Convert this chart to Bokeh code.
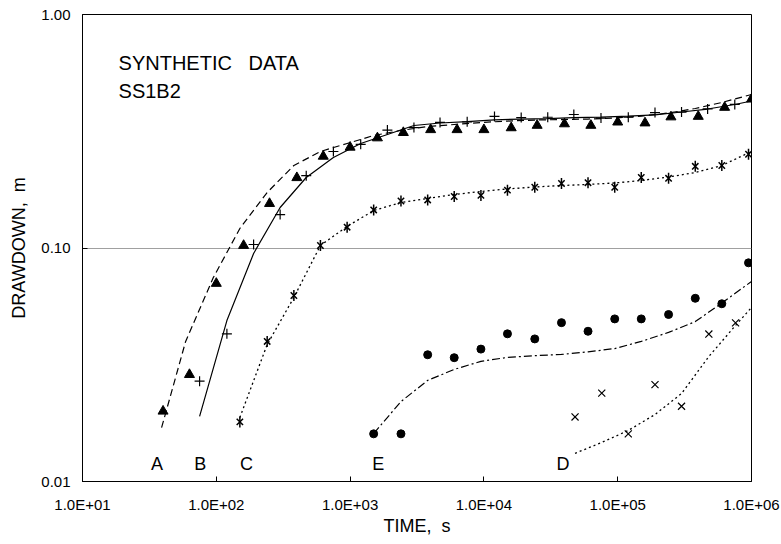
import math
from bokeh.plotting import figure
from bokeh.models import Range1d, FixedTicker
from bokeh.core.properties import value
from bokeh.embed import file_html
from bokeh.resources import INLINE

# ---------------- data ----------------
x_tick_values = [10, 100, 1000, 10000, 100000, 1000000]
x_tick_labels = ["1.0E+01", "1.0E+02", "1.0E+03", "1.0E+04", "1.0E+05", "1.0E+06"]
y_tick_values = [0.01, 0.1, 1.0]
y_tick_labels = ["0.01", "0.10", "1.00"]

# observed (synthetic) data
time_A_obs = [40, 63, 100, 160, 250, 400, 630, 1000, 1600, 2500, 4000, 6300, 10000,
              16000, 25000, 40000, 63000, 100000, 160000, 250000, 400000, 630000, 1000000]
drawdown_A_obs = [0.0200, 0.0287, 0.0705, 0.1025, 0.155, 0.200, 0.247, 0.270, 0.296, 0.312,
                  0.321, 0.321, 0.321, 0.327, 0.335, 0.340, 0.335, 0.346, 0.343, 0.364,
                  0.366, 0.400, 0.434]

time_B_obs = [75, 120, 190, 300, 470, 750, 1200, 1900, 3000, 4700, 7500, 12000, 19000,
              30000, 47000, 75000, 120000, 190000, 300000, 470000, 750000]
drawdown_B_obs = [0.0269, 0.0429, 0.1035, 0.139, 0.204, 0.259, 0.278, 0.320, 0.328, 0.345,
                  0.347, 0.366, 0.362, 0.363, 0.373, 0.360, 0.363, 0.380, 0.382, 0.394, 0.412]

time_C_obs = [150, 240, 380, 600, 950, 1500, 2400, 3800, 6000, 9500, 15000, 24000, 38000,
              60000, 95000, 150000, 240000, 380000, 600000, 950000]
drawdown_C_obs = [0.0180, 0.0398, 0.0626, 0.1025, 0.1228, 0.1455, 0.159, 0.1606, 0.1662,
                  0.168, 0.1769, 0.182, 0.1889, 0.1904, 0.182, 0.2004, 0.1988, 0.2238,
                  0.2256, 0.252]

time_E_obs = [1500, 2400, 3800, 6000, 9500, 15000, 24000, 38000, 60000, 95000, 150000,
              240000, 380000, 600000, 950000]
drawdown_E_obs = [0.0160, 0.0160, 0.0349, 0.0339, 0.0369, 0.0429, 0.0408, 0.0479, 0.0440,
                  0.0497, 0.0497, 0.0519, 0.0609, 0.0577, 0.0864]

time_D_obs = [48000, 76000, 120000, 190000, 300000, 480000, 760000]
drawdown_D_obs = [0.0189, 0.0239, 0.0160, 0.0260, 0.0210, 0.0428, 0.0478]

# fitted type curves
time_A_fit = [39, 59, 95, 150, 240, 380, 600, 950, 1500, 2400, 3800, 6000, 9500, 15000,
              24000, 38000, 60000, 95000, 150000, 240000, 380000, 600000, 1000000]
drawdown_A_fit = [0.0170, 0.0398, 0.0747, 0.1212, 0.1729, 0.2256, 0.259, 0.2803, 0.3032,
                  0.3187, 0.3314, 0.338, 0.3446, 0.3497, 0.3532, 0.3549, 0.3567, 0.3602,
                  0.3674, 0.3786, 0.3958, 0.4199, 0.4544]

time_B_fit = [75, 120, 190, 300, 470, 750, 1200, 1900, 3000, 4700, 7500, 12000, 19000,
              30000, 47000, 75000, 120000, 190000, 300000, 470000, 750000, 1000000]
drawdown_B_fit = [0.0190, 0.0489, 0.0947, 0.1491, 0.2004, 0.2441, 0.2803, 0.3062, 0.3346,
                  0.343, 0.348, 0.354, 0.3567, 0.3585, 0.3614, 0.3632, 0.3668, 0.3719,
                  0.3823, 0.3937, 0.4116, 0.4262]

time_C_fit = [150, 240, 380, 600, 950, 1500, 2400, 3800, 6000, 9500, 15000, 24000, 38000,
              60000, 95000, 150000, 240000, 380000, 600000, 1000000]
drawdown_C_fit = [0.0188, 0.0386, 0.0614, 0.1025, 0.1237, 0.1447, 0.1566, 0.163, 0.1695,
                  0.1746, 0.179, 0.1825, 0.1852, 0.1871, 0.1899, 0.1946, 0.2014, 0.2105,
                  0.2256, 0.259]

time_E_fit = [1500, 2400, 3800, 6000, 9500, 15000, 24000, 38000, 60000, 95000, 150000,
              240000, 380000, 600000, 1000000]
drawdown_E_fit = [0.01605, 0.0220, 0.0271, 0.0302, 0.0327, 0.0340, 0.0346, 0.0350, 0.0359,
                  0.0371, 0.0398, 0.0435, 0.0484, 0.0581, 0.0719]

time_D_fit = [48000, 76000, 120000, 190000, 300000, 480000, 760000, 1000000]
drawdown_D_fit = [0.0132, 0.0147, 0.01654, 0.01936, 0.0238, 0.0343, 0.0466, 0.0556]

curve_labels = ["A", "B", "C", "E", "D"]
curve_label_x = [36, 76, 168, 1620, 39000]
curve_label_y = [0.0119, 0.0119, 0.0119, 0.0119, 0.0119]

title_lines = ["SYNTHETIC\u00a0\u00a0 DATA", "SS1B2"]
title_x = [18.6, 18.6]
title_y = [0.617, 0.469]

FONT = "Liberation Sans"

# ---------------- figure ----------------
p = figure(width=781, height=544, x_axis_type="log", y_axis_type="log",
           x_range=Range1d(10, 1e6), y_range=Range1d(0.01, 1.0),
           output_backend="svg", toolbar_location=None,
           min_border_left=82, min_border_right=30, min_border_top=14, min_border_bottom=63,
           background_fill_color="white", border_fill_color="white")

p.outline_line_color = "black"
p.outline_line_width = 1
p.outline_line_alpha = 1

p.xgrid.grid_line_color = None
p.ygrid.ticker = FixedTicker(ticks=[0.1])
p.ygrid.grid_line_color = "#a0a0a0"
p.ygrid.grid_line_width = 1

for ax in (p.xaxis[0], p.yaxis[0]):
    ax.axis_line_color = "black"
    ax.major_tick_line_color = "black"
    ax.major_tick_in = 5
    ax.major_tick_out = 0
    ax.minor_tick_line_color = None
    ax.major_label_text_font = FONT
    ax.major_label_text_font_size = "15px"
    ax.major_label_text_color = "black"
    ax.axis_label_text_font = FONT
    ax.axis_label_text_font_size = "18px"
    ax.axis_label_text_font_style = "normal"
    ax.axis_label_text_color = "black"

p.xaxis.ticker = FixedTicker(ticks=x_tick_values)
p.xaxis.major_label_overrides = dict(zip(x_tick_values, x_tick_labels))
p.yaxis.ticker = FixedTicker(ticks=y_tick_values)
p.yaxis.major_label_overrides = dict(zip(y_tick_values, y_tick_labels))
p.xaxis.axis_label = "TIME,\u00a0 s"
p.yaxis.axis_label = "DRAWDOWN,\u00a0 m"
p.xaxis.major_label_standoff = 14
p.yaxis.major_label_standoff = 12
p.xaxis.axis_label_standoff = 0
p.yaxis.axis_label_standoff = 9

# fitted curves
p.line(time_A_fit, drawdown_A_fit, line_color="black", line_width=1.2, line_dash="7 4")
p.line(time_B_fit, drawdown_B_fit, line_color="black", line_width=1.2)
p.line(time_C_fit, drawdown_C_fit, line_color="black", line_width=1.3, line_dash="2 3")
p.line(time_E_fit, drawdown_E_fit, line_color="black", line_width=1.2, line_dash="8 3 2 3")
p.line(time_D_fit, drawdown_D_fit, line_color="black", line_width=1.3, line_dash="2 3")

# observations
p.scatter(time_A_obs, drawdown_A_obs, marker="triangle", size=10,
          fill_color="black", line_color="black")
p.scatter(time_B_obs, drawdown_B_obs, marker="cross", size=10,
          line_color="black", line_width=1.2)
p.scatter(time_C_obs, drawdown_C_obs, marker="x", size=9,
          line_color="black", line_width=1.5)
p.scatter(time_C_obs, drawdown_C_obs, marker="dash", size=11, angle=math.pi / 2,
          line_color="black", line_width=1.5)
p.scatter(time_E_obs, drawdown_E_obs, marker="circle", size=8,
          fill_color="black", line_color="black")
p.scatter(time_D_obs, drawdown_D_obs, marker="x", size=10,
          line_color="black", line_width=1.2)

# texts
p.text(curve_label_x, curve_label_y, text=curve_labels, text_font=value(FONT),
       text_font_size="18px", text_align="center", text_baseline="middle",
       text_color="black")
p.text(title_x, title_y, text=title_lines, text_font=value(FONT),
       text_font_size="20px", text_align="left", text_baseline="middle",
       text_color="black")

open("out.html", "w").write(file_html(p, INLINE))
